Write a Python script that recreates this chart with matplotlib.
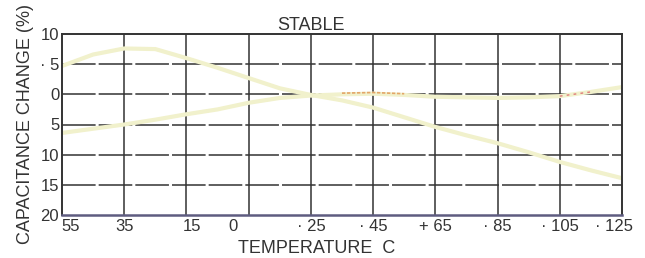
import numpy as np
import matplotlib
matplotlib.use("Agg")
import matplotlib.pyplot as plt
import matplotlib.transforms as mtransforms

plt.rcParams.update({"font.family": ["Liberation Sans", "DejaVu Sans"],
                     "text.color": "#333333"})

# temperature (C) and capacitance change (%)
temps = [-55, -45, -35, -25, -15, -5, 5, 15, 25, 35, 45, 55, 65, 75, 85, 95, 105, 115, 125]
upper_curve = [4.7, 6.6, 7.6, 7.5, 6.0, 4.4, 2.7, 1.0, -0.1, -1.0, -2.2, -3.8, -5.4,
               -6.8, -8.1, -9.6, -11.2, -12.6, -13.9]
lower_curve = [-6.4, -5.7, -5.0, -4.2, -3.3, -2.5, -1.4, -0.6, -0.2, 0.0, 0.1, -0.1, -0.4,
               -0.5, -0.6, -0.5, -0.3, 0.4, 1.2]

grid_x = [-55, -35, -15, 5, 25, 45, 65, 85, 105, 125]
grid_y = [10, 5, 0, -5, -10, -15, -20]
xtick_vals = [-55, -35, -15, 0, 25, 45, 65, 85, 105, 125]
xtick_labels = ["55", "35", "15", "0", "· 25", "· 45", "+ 65", "· 85", "· 105", "· 125"]
ytick_labels = ["10", "· 5", "0", "5", "10", "15", "20"]

fig = plt.figure(figsize=(6.45, 2.58), dpi=100)
ax = fig.add_axes([62 / 645, 1 - 215 / 258, 560 / 645, 181 / 258])

ax.set_xlim(-55, 125)
ax.set_ylim(-20, 10)

for gx in grid_x[1:-1]:
    ax.axvline(gx, color="#333333", lw=1.1, zorder=1)
for gy in grid_y[1:-1]:
    ax.axhline(gy, color="#333333", lw=1.1, ls=(0, (22, 2)), zorder=1)

ax.plot(temps, upper_curve, color="#f1f1cc", lw=3.0, zorder=2, solid_capstyle="round")
ax.plot(temps, lower_curve, color="#f1f1cc", lw=3.0, zorder=2, solid_capstyle="round")

# faint orange / red traces left on the lower curve
t = np.array(temps)
lc = np.array(lower_curve)
m = (t >= 35) & (t <= 55)
ax.plot(t[m], lc[m] + 0.2, color="#e3a668", lw=1.2, ls=(0, (2, 1)), zorder=3)
m = (t >= 105) & (t <= 115)
ax.plot(t[m], lc[m], color="#e07a7a", lw=1.0, ls=(0, (2, 3)), zorder=3)

for s in ax.spines.values():
    s.set_color("#333333")
    s.set_linewidth(1.4)
ax.spines["bottom"].set_color("#5e5c80")
ax.spines["bottom"].set_linewidth(1.8)

ax.set_xticks(xtick_vals)
ax.set_xticklabels(xtick_labels)
ax.set_yticks(grid_y)
ax.set_yticklabels(ytick_labels)
ax.tick_params(length=0, labelsize=12, colors="#333333", pad=2)
ax.tick_params(axis="x", pad=3)

# nudge edge labels like the printed chart
nudge = {0: 9, 2: 6, 9: -8}
for i, lab in enumerate(ax.get_xticklabels()):
    if i in nudge:
        lab.set_transform(lab.get_transform() +
                          mtransforms.ScaledTranslation(nudge[i] / 100, 0, fig.dpi_scale_trans))

ax.set_title("STABLE", fontsize=13, pad=3, color="#333333", x=0.445)
ax.set_xlabel("TEMPERATURE  C", fontsize=13, labelpad=0, color="#333333")
ax.xaxis.set_label_coords(0.455, -0.14)
ax.set_ylabel("CAPACITANCE CHANGE (%)", fontsize=13, labelpad=4, color="#333333")

fig.savefig("out.png", dpi=100, facecolor="white")
